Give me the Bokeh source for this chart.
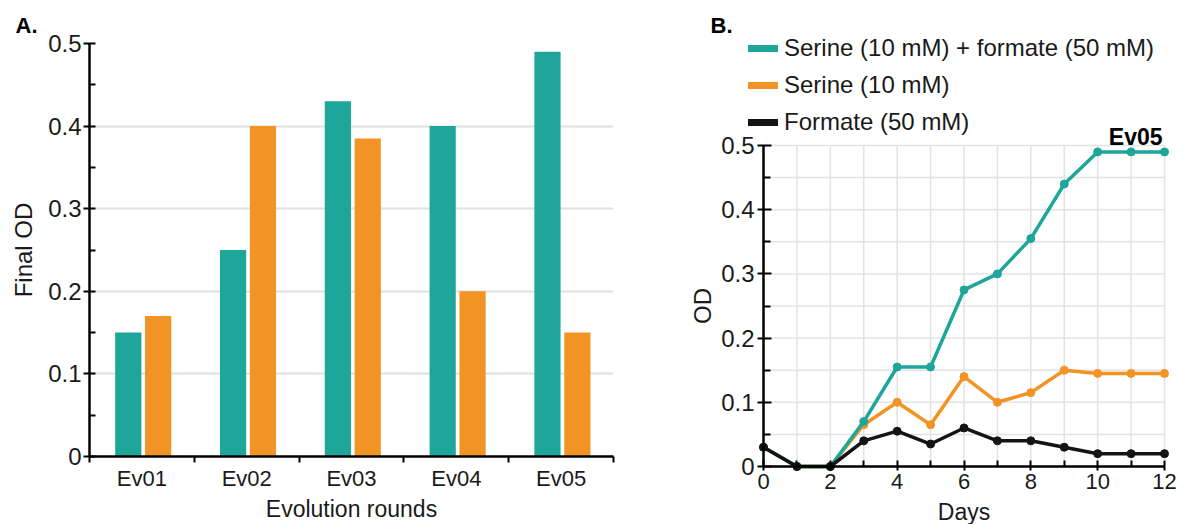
from bokeh.plotting import figure
from bokeh.models import (ColumnDataSource, FixedTicker, Legend, LegendItem, Label, Range1d)
from bokeh.layouts import row
from bokeh.transform import dodge
from bokeh.embed import file_html
from bokeh.resources import INLINE

# ---------------- data ----------------
rounds = ["Ev01", "Ev02", "Ev03", "Ev04", "Ev05"]
final_od_ser_form = [0.15, 0.25, 0.43, 0.40, 0.49]
final_od_ser = [0.17, 0.40, 0.385, 0.20, 0.15]

days = [0, 1, 2, 3, 4, 5, 6, 7, 8, 9, 10, 11, 12]
od_ser_form = [0.03, 0, 0, 0.07, 0.155, 0.155, 0.275, 0.30, 0.355, 0.44, 0.49, 0.49, 0.49]
od_ser = [0.03, 0, 0, 0.065, 0.10, 0.065, 0.14, 0.10, 0.115, 0.15, 0.145, 0.145, 0.145]
od_form = [0.03, 0, 0, 0.04, 0.055, 0.035, 0.06, 0.04, 0.04, 0.03, 0.02, 0.02, 0.02]

y_ticks = [0, 0.1, 0.2, 0.3, 0.4, 0.5]
y_minor = [0.05, 0.15, 0.25, 0.35, 0.45]
day_ticks = [0, 2, 4, 6, 8, 10, 12]
day_minor = [1, 3, 5, 7, 9, 11]

series_labels = ["Serine (10 mM) + formate (50 mM)", "Serine (10 mM)", "Formate (50 mM)"]

TEAL = "#1ea69a"
ORANGE = "#f29325"
BLACK = "#141414"
FONT = "Liberation Sans"
TXT = "#1a1a1a"


def style_axis(ax, label_size="24px"):
    ax.axis_line_width = 2.5
    ax.axis_line_color = "black"
    ax.major_tick_line_width = 2
    ax.major_tick_line_color = "black"
    ax.minor_tick_line_width = 2
    ax.minor_tick_line_color = "black"
    ax.major_label_text_font = FONT
    ax.major_label_text_color = TXT
    ax.axis_label_text_font = FONT
    ax.axis_label_text_font_style = "normal"
    ax.axis_label_text_font_size = label_size
    ax.axis_label_text_color = TXT


# ---------------- panel A ----------------
pa = figure(width=648, height=524, x_range=Range1d(0, len(rounds)), y_range=Range1d(0, 0.5),
            output_backend="svg", toolbar_location=None, frame_align=False,
            min_border_left=89, min_border_right=35, min_border_top=43, min_border_bottom=58)
pa.outline_line_color = None

centers = [i + 0.5 for i in range(len(rounds))]
src_a = ColumnDataSource(dict(xc=centers, sf=final_od_ser_form, s=final_od_ser))
pa.vbar(x=dodge("xc", -0.13), top="sf", width=0.25, source=src_a,
        fill_color=TEAL, line_color=None)
pa.vbar(x=dodge("xc", 0.155), top="s", width=0.25, source=src_a,
        fill_color=ORANGE, line_color=None)

xa = pa.xaxis[0]
style_axis(xa, "23px")
xa.ticker = FixedTicker(ticks=centers, minor_ticks=list(range(len(rounds) + 1)))
xa.major_label_overrides = {c: r for c, r in zip(centers, rounds)}
xa.major_tick_line_color = None
xa.major_tick_in = 0
xa.major_tick_out = 0
xa.minor_tick_in = 0
xa.minor_tick_out = 6
xa.major_label_text_font_size = "22px"
xa.major_label_standoff = 3
xa.axis_label = "Evolution rounds"
xa.axis_label_standoff = 2

ya = pa.yaxis[0]
style_axis(ya, "24px")
ya.ticker = FixedTicker(ticks=y_ticks, minor_ticks=y_minor)
ya.major_label_overrides = {0: "0"}
ya.major_tick_in = 6
ya.major_tick_out = 6
ya.minor_tick_in = 6
ya.minor_tick_out = 0
ya.major_label_text_font_size = "24px"
ya.major_label_standoff = 2
ya.axis_label = "Final OD"
ya.axis_label_standoff = 8

pa.xgrid.visible = False
pa.ygrid.grid_line_color = "#e0e0e0"
pa.ygrid.grid_line_width = 2

pa.add_layout(Label(x=-74, y=18, x_units="screen", y_units="screen", text="A.",
                    text_font=FONT, text_font_style="bold", text_font_size="22px",
                    text_color="black", text_baseline="alphabetic"), "above")

# ---------------- panel B ----------------
# The frame fills the whole canvas; the axes sit at day 0 / OD 0 (fixed_location),
# so the legend and labels above the data area are not clipped.
BW, BH = 537, 524
X0_PX, X12_PX = 115, 516      # canvas px of day 0 and day 12
Y0_PX, Y05_PX = 466, 145      # canvas px (from top) of OD 0 and OD 0.5
ppx = (X12_PX - X0_PX) / 12
ppy = (Y0_PX - Y05_PX) / 0.5
xr = Range1d(-X0_PX / ppx, 12 + (BW - X12_PX) / ppx)
yr = Range1d(-(BH - Y0_PX) / ppy, 0.5 + Y05_PX / ppy)

pb = figure(width=BW, height=BH, x_range=xr, y_range=yr,
            output_backend="svg", toolbar_location=None, frame_align=False,
            min_border=0, title_location=None)
pb.outline_line_color = None
pb.xgrid.visible = False
pb.ygrid.visible = False

# grid restricted to the data area
gx = sorted(day_ticks + day_minor)
gy = sorted(y_ticks + y_minor)
pb.segment(x0=gx, y0=[0] * len(gx), x1=gx, y1=[0.5] * len(gx),
           line_color="#e3e3e3", line_width=1.5, level="underlay")
pb.segment(x0=[0] * len(gy), y0=gy, x1=[12] * len(gy), y1=gy,
           line_color="#e3e3e3", line_width=1.5, level="underlay")

src_b = ColumnDataSource(dict(day=days, sf=od_ser_form, s=od_ser, f=od_form))
for field, col in [("s", ORANGE), ("sf", TEAL), ("f", BLACK)]:
    pb.line("day", field, source=src_b, line_color=col, line_width=3.5)
    pb.scatter("day", field, source=src_b, size=8, fill_color=col, line_color=col)

xb = pb.xaxis[0]
style_axis(xb, "23px")
xb.fixed_location = 0
xb.bounds = (0, 12)
xb.ticker = FixedTicker(ticks=day_ticks, minor_ticks=day_minor)
xb.major_tick_in = 6
xb.major_tick_out = 4
xb.minor_tick_in = 6
xb.minor_tick_out = 0
xb.major_label_text_font_size = "22px"
xb.major_label_standoff = 3
xb.axis_label = "Days"
xb.axis_label_standoff = 7

yb = pb.yaxis[0]
style_axis(yb, "24px")
yb.fixed_location = 0
yb.bounds = (0, 0.5)
yb.ticker = FixedTicker(ticks=y_ticks, minor_ticks=y_minor)
yb.major_label_overrides = {0: "0"}
yb.major_tick_in = 8
yb.major_tick_out = 6
yb.minor_tick_in = 7
yb.minor_tick_out = 0
yb.major_label_text_font_size = "24px"
yb.major_label_standoff = 3
yb.axis_label = "OD"
yb.axis_label_standoff = 2

nan = float("nan")
items = []
for lab, col in zip(series_labels, [TEAL, ORANGE, BLACK]):
    r = pb.line(x=[nan], y=[nan], line_color=col, line_width=7, line_cap="round")
    items.append(LegendItem(label=lab, renderers=[r]))
legend = Legend(items=items, location=(748 - 648, BH - 137), orientation="vertical",
                label_text_font=FONT, label_text_font_size="24px", label_text_color=TXT,
                glyph_width=30, glyph_height=30, label_height=30, label_standoff=6,
                spacing=7, padding=0, margin=0,
                border_line_color=None, background_fill_alpha=0)
pb.add_layout(legend)

pb.add_layout(Label(x=12, y=0.5, text="Ev05", text_align="right", text_baseline="alphabetic",
                    x_offset=-2, y_offset=9, text_font=FONT, text_font_style="bold",
                    text_font_size="23px", text_color="black"))
pb.add_layout(Label(x=710 - 648, y=BH - 25, x_units="screen", y_units="screen", text="B.",
                    text_font=FONT, text_font_style="bold", text_font_size="22px",
                    text_color="black", text_baseline="alphabetic"))

layout = row(pa, pb)
open("out.html", "w").write(file_html(layout, INLINE))
